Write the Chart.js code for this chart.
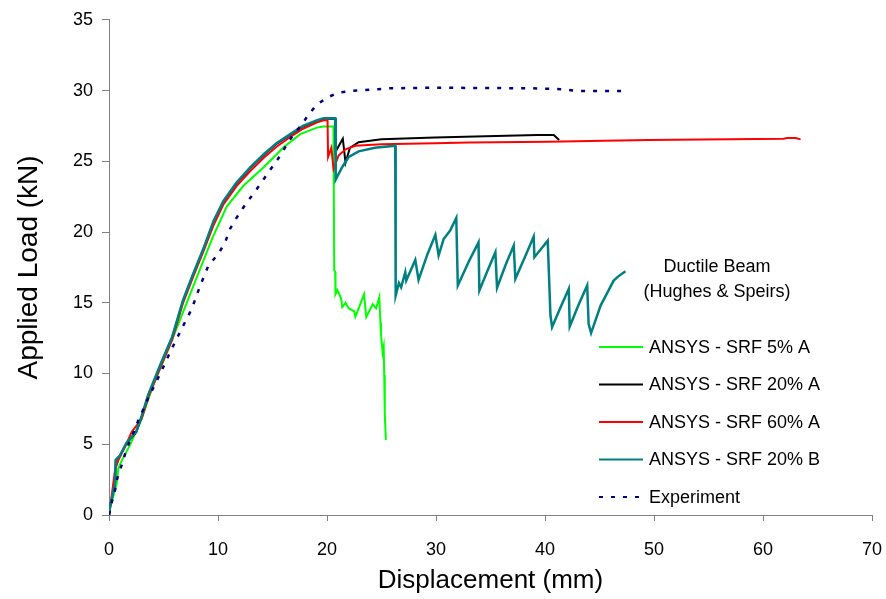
<!DOCTYPE html>
<html>
<head>
<meta charset="utf-8">
<script src="https://cdn.jsdelivr.net/npm/chart.js@4.4.1/dist/chart.umd.min.js"></script>
<style>
  body { margin: 0; background: #fff; }
  #wrap { width: 886px; height: 599px; }
</style>
</head>
<body>
<div id="wrap"><canvas id="loadChart" width="886" height="599"></canvas></div>
<script>
// Load-displacement data: [displacement mm, load kN]
var srf5A = [[0,0],[0.1,0.5],[0.7,2.2],[0.86,3.3],[1.2,3.9],[1.9,4.9],[2.9,6.6],[4.0,9.05],[5.0,10.9],
  [6.06,12.9],[7.13,15.0],[8.36,17.4],[9.5,19.6],[10.8,21.8],[12.33,23.27],[14.17,24.56],[16.0,25.97],
  [17.54,26.92],[19.07,27.38],[19.68,27.45],[20.6,27.45],[20.66,17.3],[20.75,17.2],[20.78,15.6],[20.95,15.9],
  [21.3,15.3],[21.4,14.7],[21.7,15.0],[22.0,14.6],[22.5,14.4],[22.6,14.0],[23.4,15.6],[23.6,14.0],
  [24.2,14.9],[24.5,14.6],[24.8,15.4],[24.9,13.6],[24.95,12.8],[25.1,11.5],[25.2,11.9],[25.25,9.9],
  [25.3,7.2],[25.4,5.3]];

var srf20A = [[0,0],[0.1,0.6],[0.55,2.2],[0.62,3.85],[1.0,4.15],[1.6,5.05],[2.5,5.85],[3.0,6.95],
  [3.6,8.45],[4.8,10.75],[5.8,12.55],[6.8,15.15],[7.7,16.95],[8.7,18.85],[9.6,20.75],[10.5,22.15],
  [11.7,23.45],[13.0,24.55],[14.2,25.45],[15.4,26.25],[16.6,26.85],[17.8,27.45],[19.1,27.85],[19.7,28.0],
  [20.75,28.0],[20.8,25.7],[21.45,26.6],[21.7,24.9],[22.1,25.95],[22.9,26.35],[25.0,26.55],[29.9,26.68],
  [33.6,26.75],[39.3,26.85],[40.8,26.85],[41.3,26.5]];

var srf60A = [[0,0],[0.1,0.5],[0.55,3.17],[0.86,3.88],[1.47,4.82],[2.08,5.87],[3.0,6.8],[3.6,8.3],
  [4.8,10.6],[5.8,12.4],[6.8,15.0],[7.7,16.8],[8.7,18.7],[9.6,20.5],[10.5,21.95],[11.7,23.25],
  [13.0,24.35],[14.2,25.25],[15.4,26.05],[16.6,26.7],[17.8,27.3],[19.1,27.75],[19.7,27.9],[20.05,27.9],
  [20.1,25.3],[20.4,25.95],[20.6,24.45],[21.06,25.4],[21.7,25.85],[22.6,26.1],[25.0,26.2],[29.9,26.28],
  [33.0,26.33],[40.3,26.38],[45.4,26.45],[49.5,26.5],[61.9,26.6],[62.2,26.65],[63.0,26.65],[63.45,26.55]];

var srf20B = [[0,0],[0.1,0.6],[0.55,2.2],[0.62,3.9],[1.0,4.2],[1.6,5.1],[2.5,5.9],[3.0,7.0],[3.6,8.5],
  [4.8,10.8],[5.8,12.6],[6.8,15.2],[7.7,17.0],[8.7,18.9],[9.6,20.8],[10.5,22.2],[11.7,23.5],[13.0,24.6],
  [14.2,25.5],[15.4,26.3],[16.6,26.9],[17.8,27.5],[19.1,27.9],[19.7,28.05],[20.75,28.05],[20.8,23.7],
  [21.4,24.6],[22.0,25.3],[22.9,25.7],[24.4,25.95],[26.26,26.1],[26.3,15.5],[26.6,16.4],[26.8,16.1],
  [27.18,17.16],[27.27,16.57],[28.1,18.03],[28.4,16.62],[29.2,18.4],[29.94,19.8],[30.24,18.34],[30.7,19.5],
  [31.3,20.1],[31.86,21.0],[32.0,16.22],[33.0,17.9],[33.9,19.27],[33.98,15.87],[34.8,17.4],[35.45,18.57],
  [35.6,16.06],[36.4,17.7],[37.13,19.04],[37.28,16.69],[38.2,18.3],[38.96,19.68],[39.03,18.22],
  [40.25,19.39],[40.5,14.1],[40.65,13.28],[41.5,14.8],[42.18,15.99],[42.27,13.33],[43.1,14.9],
  [43.87,16.22],[44.0,13.52],[44.23,12.86],[45.1,14.8],[46.3,16.57],[46.7,16.85],[47.38,17.23]];

var experiment = [[0,0],[0.25,0.9],[0.55,1.75],[0.76,2.6],[1.13,3.45],[1.47,4.3],[1.84,5.1],[2.29,5.9],
  [2.75,6.8],[3.2,7.55],[3.67,8.4],[4.2,9.2],[4.68,9.95],[5.6,11.5],[6.67,13.17],[7.6,14.58],[8.36,16.2],
  [9.12,17.63],[10.04,18.46],[10.65,19.27],[11.1,20.22],[11.73,21.04],[12.33,21.74],[12.95,22.4],
  [13.56,23.04],[14.3,23.86],[14.94,24.56],[15.7,25.39],[16.32,26.2],[16.92,26.9],[17.7,27.6],[18.3,28.3],
  [19.07,29.0],[20.0,29.5],[21.06,29.85],[22.1,29.97],[25.8,30.16],[29.8,30.2],[38.7,30.16],[41.7,30.09],
  [42.9,29.97],[47.2,29.97]];

var seriesNames = ['ANSYS - SRF 5% A', 'ANSYS - SRF 20% A', 'ANSYS - SRF 60% A', 'ANSYS - SRF 20% B', 'Experiment'];
var legendTitle = ['Ductile Beam', '(Hughes & Speirs)'];

var FONT = '"Liberation Sans", Arial, sans-serif';

function toPoints(arr) {
    return arr.map(function (p) { return { x: p[0], y: p[1] }; });
}

// legend drawn inside the plot, like the original
var legendPlugin = {
    id: 'insideLegend',
    afterDraw: function (chart) {
        var c = chart.ctx;
        c.save();
        c.fillStyle = '#000';
        c.font = '18px ' + FONT;
        c.textAlign = 'center';
        c.textBaseline = 'middle';
        c.fillText(legendTitle[0], 717, 267);
        c.fillText(legendTitle[1], 717, 292);
        c.textAlign = 'left';
        chart.data.datasets.forEach(function (ds, i) {
            var y = 347 + i * 37.5;
            c.beginPath();
            c.strokeStyle = ds.borderColor;
            c.lineWidth = 2;
            c.setLineDash(ds.borderDash || []);
            c.moveTo(599, y);
            c.lineTo(643, y);
            c.stroke();
            c.setLineDash([]);
            c.fillText(ds.label, 649, y + 1);
        });
        c.restore();
    }
};

var ctx = document.getElementById('loadChart').getContext('2d');
var loadChart = new Chart(ctx, {
    type: 'line',
    data: {
        datasets: [
            { label: seriesNames[0], data: toPoints(srf5A), borderColor: '#00ff00', borderWidth: 2, order: 4 },
            { label: seriesNames[1], data: toPoints(srf20A), borderColor: '#000000', borderWidth: 2, order: 3 },
            { label: seriesNames[2], data: toPoints(srf60A), borderColor: '#ff0000', borderWidth: 2, order: 2 },
            { label: seriesNames[3], data: toPoints(srf20B), borderColor: '#008080', borderWidth: 2.5, order: 1 },
            { label: seriesNames[4], data: toPoints(experiment), borderColor: '#000080', borderWidth: 2.5,
              borderDash: [4, 8], order: 0 }
        ]
    },
    options: {
        responsive: false,
        animation: false,
        events: [],
        parsing: false,
        elements: {
            point: { radius: 0 },
            line: { tension: 0, fill: false }
        },
        layout: { padding: { top: 19, right: 14, left: 0, bottom: 0 } },
        plugins: {
            legend: { display: false },
            tooltip: { enabled: false }
        },
        scales: {
            x: {
                type: 'linear',
                min: 0,
                max: 70,
                ticks: { stepSize: 10, color: '#000', font: { family: FONT, size: 18 }, padding: 18, maxRotation: 0 },
                grid: { drawOnChartArea: false, drawTicks: true, tickLength: 6, color: '#808080' },
                border: { color: '#808080', width: 1 },
                title: { display: true, text: 'Displacement (mm)', color: '#000',
                         font: { family: FONT, size: 26 }, padding: { top: 0, bottom: 3 } },
                afterFit: function (scale) {
                    scale.height = 84;
                    // keep the plot edge fixed, the end labels fit in the page margin
                    scale.paddingLeft = 0;
                    scale.paddingRight = 0;
                }
            },
            y: {
                type: 'linear',
                min: 0,
                max: 35,
                ticks: { stepSize: 5, color: '#000', font: { family: FONT, size: 18 }, padding: 9 },
                grid: { drawOnChartArea: false, drawTicks: true, tickLength: 7, color: '#808080' },
                border: { color: '#808080', width: 1 },
                title: { display: true, text: 'Applied Load (kN)', color: '#000',
                         font: { family: FONT, size: 28 }, padding: { top: 12, bottom: 0 } },
                afterFit: function (scale) { scale.width = 109; }
            }
        }
    },
    plugins: [legendPlugin]
});
</script>
</body>
</html>
